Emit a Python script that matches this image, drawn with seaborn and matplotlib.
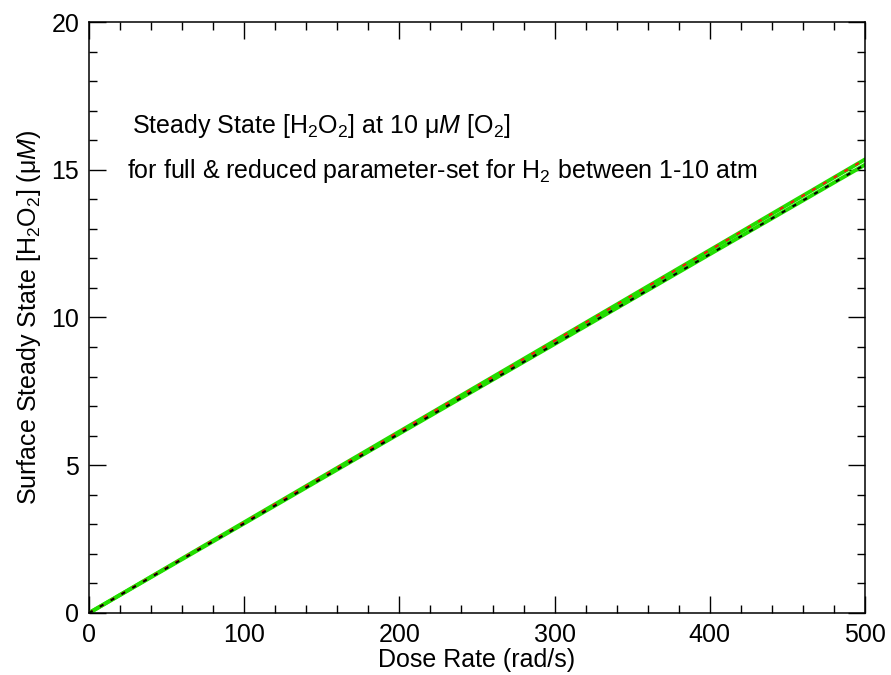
import matplotlib
matplotlib.use("Agg")
import matplotlib.pyplot as plt
import seaborn as sns
import pandas as pd
from matplotlib.ticker import MultipleLocator

dose_rate = [0, 100, 200, 300, 400, 500]
h2o2_upper = [0.0, 3.07, 6.14, 9.21, 12.28, 15.35]
h2o2_lower = [0.0, 3.03, 6.07, 9.10, 12.14, 15.17]

sns.set_style("white")
plt.rcParams['font.family'] = ['Liberation Sans', 'DejaVu Sans']
plt.rcParams['mathtext.fontset'] = 'custom'
plt.rcParams['mathtext.rm'] = 'Liberation Sans'
plt.rcParams['mathtext.it'] = 'Liberation Sans:italic'
plt.rcParams['mathtext.default'] = 'regular'
plt.rcParams['text.color'] = 'black'
plt.rcParams['axes.labelcolor'] = 'black'
plt.rcParams['xtick.color'] = 'black'
plt.rcParams['ytick.color'] = 'black'

fig = plt.figure(figsize=(8.91, 6.75), dpi=100)
ax = fig.add_axes([0.0999, 0.0919, 0.8709, 0.8755])

df_u = pd.DataFrame({"x": dose_rate, "y": h2o2_upper})
df_l = pd.DataFrame({"x": dose_rate, "y": h2o2_lower})

sns.lineplot(data=df_u, x="x", y="y", ax=ax, color="#22dd00", linewidth=2.8)
sns.lineplot(data=df_l, x="x", y="y", ax=ax, color="#22dd00", linewidth=2.8)
sns.lineplot(data=df_u, x="x", y="y", ax=ax, color="#ff1010", linewidth=1.5,
             linestyle=(0, (2, 4)))
sns.lineplot(data=df_l, x="x", y="y", ax=ax, color="black", linewidth=1.5,
             linestyle=(0, (2, 4)))

ax.set_xlim(0, 500)
ax.set_ylim(0, 20)
ax.xaxis.set_major_locator(MultipleLocator(100))
ax.xaxis.set_minor_locator(MultipleLocator(20))
ax.yaxis.set_major_locator(MultipleLocator(5))
ax.yaxis.set_minor_locator(MultipleLocator(1))
ax.tick_params(which='both', direction='in', top=True, right=True,
               bottom=True, left=True, width=1.0, color='black')
ax.tick_params(which='major', length=12.5, labelsize=18, pad=7)
ax.tick_params(which='minor', length=6)
for s in ax.spines.values():
    s.set_color('black')
    s.set_linewidth(1.1)

ax.set_xlabel("Dose Rate (rad/s)", fontsize=18, labelpad=1)
ax.set_ylabel(r"Surface Steady State [H$_2$O$_2$] ($\mu$$\mathit{M}$)", fontsize=18, labelpad=6)

ax.text(0.0554, 0.812, r"Steady State [H$_2$O$_2$] at 10 $\mu$$\mathit{M}$ [O$_2$]",
        transform=ax.transAxes, fontsize=18, va='baseline', ha='left')
ax.text(0.049, 0.736, r"for full & reduced parameter-set for H$_2$ between 1-10 atm",
        transform=ax.transAxes, fontsize=18, va='baseline', ha='left')

fig.savefig("out.png", dpi=100)
